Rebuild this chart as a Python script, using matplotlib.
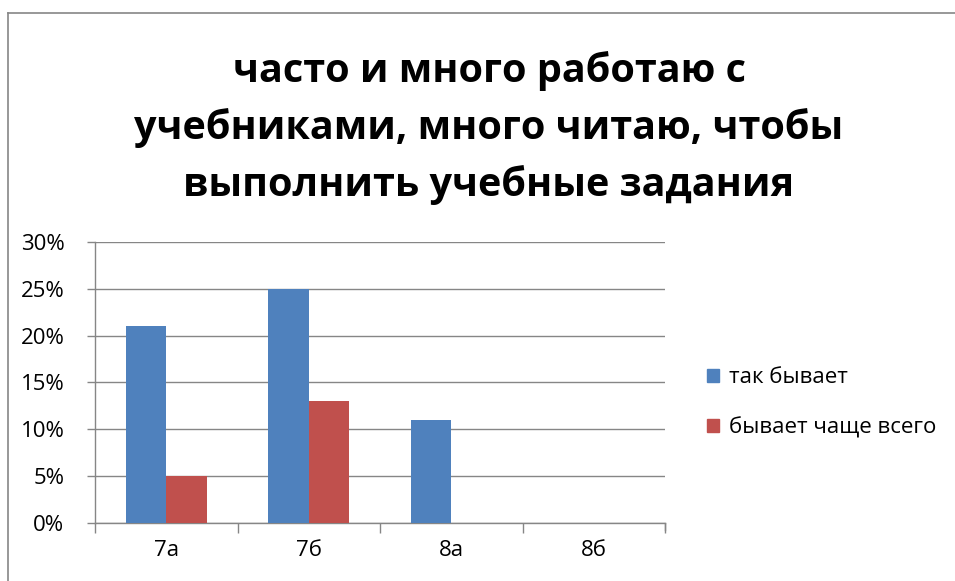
"""Grouped bar chart: how often pupils work with textbooks, by class."""
import matplotlib

matplotlib.use("Agg")
import matplotlib.pyplot as plt
from matplotlib.lines import Line2D
from matplotlib.patches import Rectangle
from matplotlib.ticker import FuncFormatter, MultipleLocator

plt.rcParams["font.family"] = ["Open Sans", "DejaVu Sans"]

TITLE = "часто и много работаю с\nучебниками, много читаю, чтобы\nвыполнить учебные задания"
CLASSES = ["7а", "7б", "8а", "8б"]
SERIES_NAMES = ["так бывает", "бывает чаще всего"]
OFTEN = [0.21, 0.25, 0.11, 0.0]
MOST_OFTEN = [0.05, 0.13, 0.0, 0.0]
COLORS = ["#4f81bd", "#c0504d"]
GRAY = "#868686"

figure = plt.figure(figsize=(9.55, 5.81), dpi=100)
axis = figure.add_axes([95 / 955, 1 - 523 / 581, 570 / 955, 281 / 581])

positions = list(range(len(CLASSES)))
width = 0.284
axis.bar([p - width / 2 for p in positions], OFTEN, width, color=COLORS[0], label=SERIES_NAMES[0], zorder=3)
axis.bar([p + width / 2 for p in positions], MOST_OFTEN, width, color=COLORS[1], label=SERIES_NAMES[1], zorder=3)

axis.set_xlim(-0.5, len(CLASSES) - 0.5)
axis.set_ylim(0, 0.30)
axis.yaxis.set_major_locator(MultipleLocator(0.05))
axis.yaxis.set_major_formatter(FuncFormatter(lambda v, _: f"{v * 100:.0f}%"))
axis.grid(axis="y", color=GRAY, linewidth=1, zorder=0)

axis.set_xticks([p - 0.5 for p in positions] + [len(CLASSES) - 0.5])
axis.set_xticklabels([])
axis.set_xticks(positions, minor=True)
axis.set_xticklabels(CLASSES, minor=True)
axis.tick_params(axis="x", which="major", length=7, color=GRAY, width=1, direction="out")
axis.tick_params(axis="x", which="minor", length=0, pad=12, labelsize=16)
axis.tick_params(axis="y", length=6, color=GRAY, width=1, direction="out", labelsize=16, pad=16)

for side in ("top", "right"):
    axis.spines[side].set_visible(False)
for side in ("left", "bottom"):
    axis.spines[side].set_color(GRAY)
    axis.spines[side].set_linewidth(1)
axis.plot([1, 1], [0, -0.025], transform=axis.transAxes, color=GRAY, linewidth=1, clip_on=False)

figure.text(489 / 955, 1 - 128 / 581, TITLE, ha="center", va="center", fontsize=28.5,
            fontweight="bold", linespacing=1.55)

handles = [Rectangle((0, 0), 1, 1, color=c) for c in COLORS]
figure.legend(handles, SERIES_NAMES, loc="center left", bbox_to_anchor=(687 / 955, 1 - 403 / 581),
              frameon=False, fontsize=16, handlelength=0.55, handleheight=0.55, handletextpad=0.45,
              labelspacing=1.3)

figure.add_artist(Line2D([7.5 / 955, 7.5 / 955], [0, 1 - 13 / 581], color=GRAY, linewidth=1.2))
figure.add_artist(Line2D([7.5 / 955, 1], [1 - 13 / 581, 1 - 13 / 581], color=GRAY, linewidth=1.2))

figure.savefig("out.png", dpi=100)
